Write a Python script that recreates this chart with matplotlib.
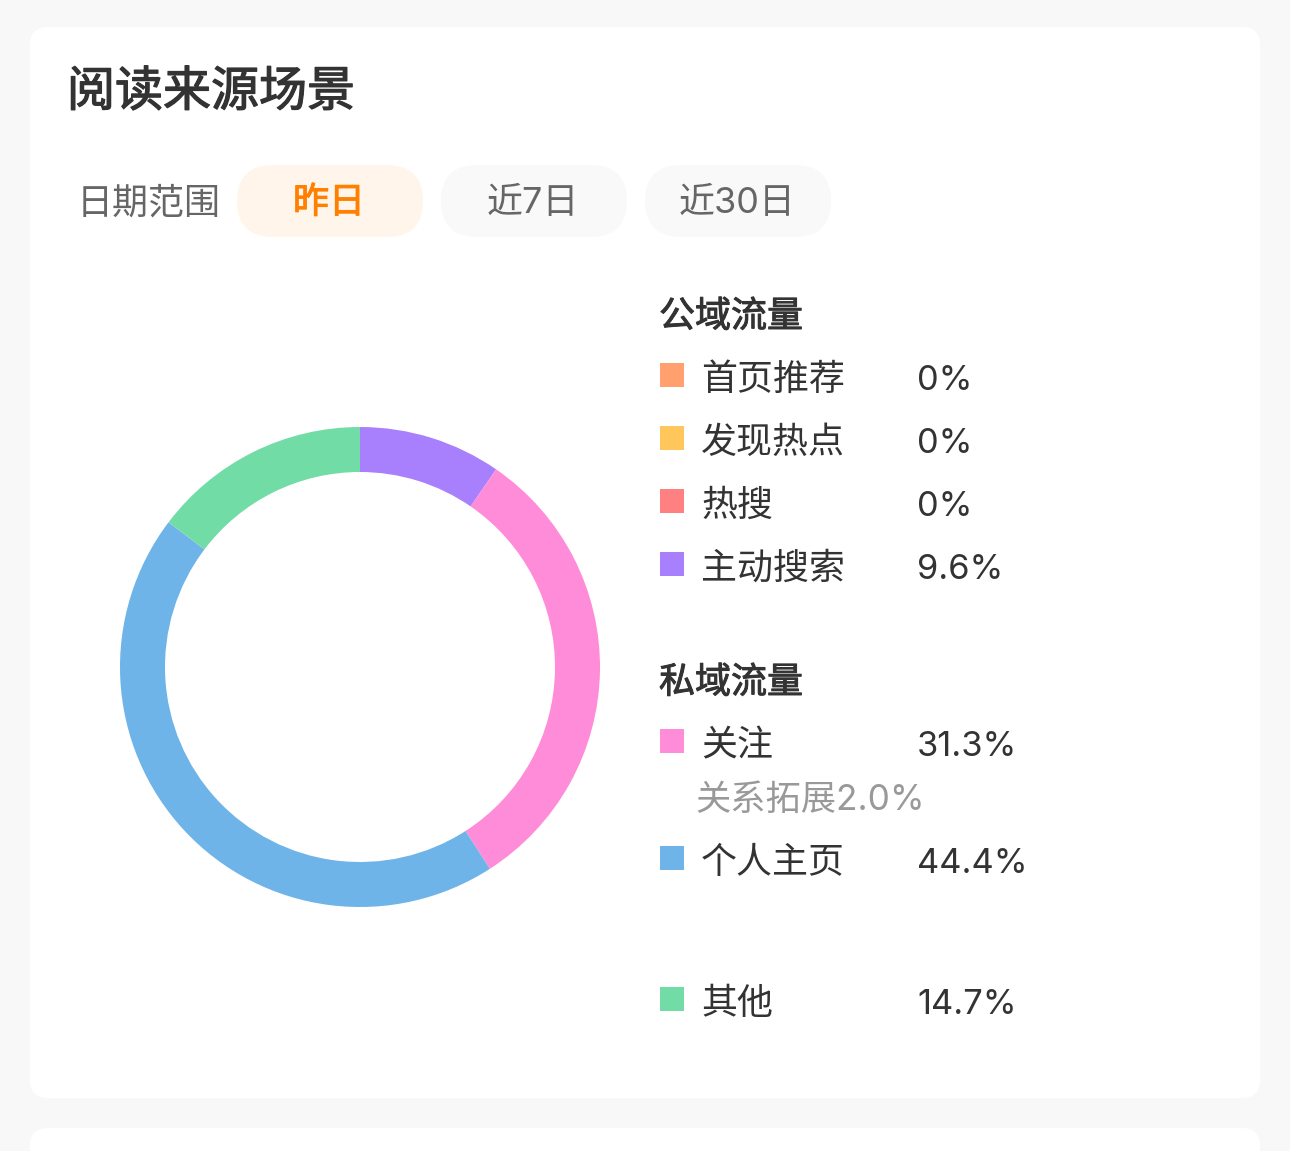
import matplotlib
matplotlib.use("Agg")
import matplotlib.pyplot as plt
import matplotlib.patheffects as pe
from matplotlib.patches import FancyBboxPatch, Rectangle

# Inter first so digits and % come out wide like the original, CJK falls through
plt.rcParams['font.family'] = ['Inter', 'Noto Sans CJK SC', 'DejaVu Sans']

# donut values, clockwise from 12 o'clock
names = ['主动搜索', '关注', '个人主页', '其他']
shares = [9.6, 31.3, 44.4, 14.7]
colors = ['#a880fd', '#ff8cd8', '#6eb4e8', '#72dca6']

public_names = ['首页推荐', '发现热点', '热搜', '主动搜索']
public_vals = ['0%', '0%', '0%', '9.6%']
public_cols = ['#ffa06e', '#ffc65c', '#ff8080', '#a880fd']

W, H = 1290, 1151
fig = plt.figure(figsize=(W / 100, H / 100), dpi=100, facecolor='#f8f8f8')
bg = fig.add_axes([0, 0, 1, 1])
bg.set_xlim(0, W)
bg.set_ylim(H, 0)
bg.axis('off')


def card(x, y, w, h, r, col, ax=bg):
    ax.add_patch(FancyBboxPatch((x + r, y + r), w - 2 * r, h - 2 * r,
                                boxstyle='round,pad=%d,rounding_size=%d' % (r, r),
                                fc=col, ec='none'))


def px(s):
    # pixel height to points at dpi 100
    return s * 0.72


def label(x, y, s, size=36, col='#333333', heavy=0, **kw):
    # baseline anchored so mixed latin / CJK strings stay on one line
    t = bg.text(x, y + 13, s, fontsize=px(size), color=col, va='baseline', **kw)
    if heavy:
        # no medium weight gets picked up, thicken the regular one a bit
        t.set_path_effects([pe.withStroke(linewidth=heavy, foreground=col)])
    return t


card(30, 27, 1230, 1071, 18, 'white')
card(30, 1128, 1230, 60, 18, 'white')

label(67, 93, '阅读来源场景', size=48, heavy=0.9)
label(77, 200, '日期范围', col='#666666')

card(237, 165, 186, 72, 36, '#fff5eb')
card(441, 165, 186, 72, 36, '#f9f9f9')
card(645, 165, 186, 72, 36, '#f9f9f9')
label(329, 200, '昨日', col='#ff8000', heavy=0.7, ha='center')
label(533, 200, '近7日', col='#666666', ha='center')
label(737, 200, '近30日', col='#666666', ha='center')

# donut
R = 240
cx, cy = 360, 667
ax = fig.add_axes([(cx - R) / W, 1 - (cy + R) / H, 2 * R / W, 2 * R / H])
ax.pie(shares, colors=colors, startangle=90, counterclock=False, radius=1,
       wedgeprops={'width': 45 / R, 'linewidth': 0})
ax.set_xlim(-1, 1)
ax.set_ylim(-1, 1)


def row(y, name, val, col):
    bg.add_patch(Rectangle((660, y - 14), 24, 24, fc=col, ec='none'))
    label(701, y, name)
    label(917, y, val, size=34.5)


label(659, 314, '公域流量', heavy=0.7)
for y, n, v, c in zip([377, 440, 503, 566], public_names, public_vals, public_cols):
    row(y, n, v, c)

label(659, 680, '私域流量', heavy=0.7)
row(743, names[1], '31.3%', colors[1])
label(695, 797, '关系拓展2.0%', size=35.3, col='#999999')
row(860, names[2], '44.4%', colors[2])
row(1001, names[3], '14.7%', colors[3])

fig.savefig('out.png', dpi=100, facecolor=fig.get_facecolor())
